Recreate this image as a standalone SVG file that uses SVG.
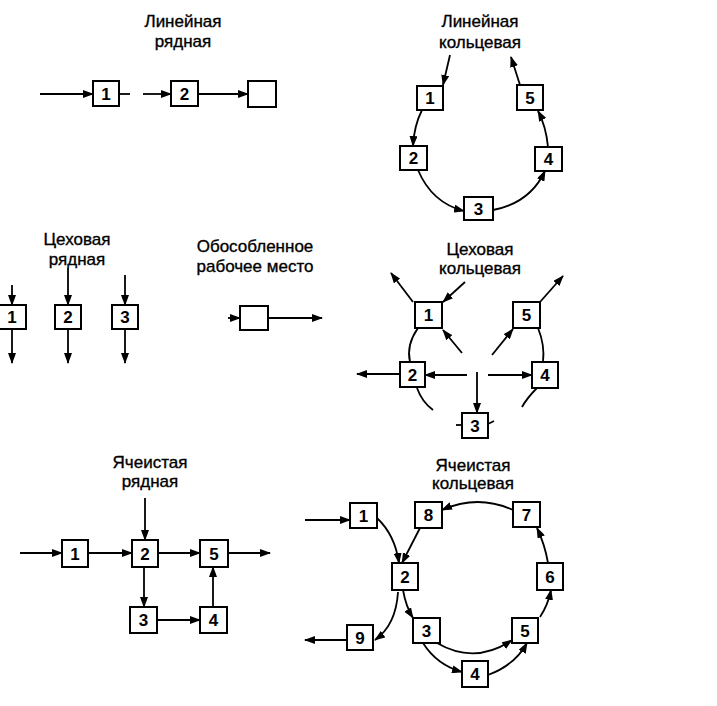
<svg xmlns="http://www.w3.org/2000/svg" width="717" height="706" viewBox="0 0 717 706">
<defs>
<marker id="ah" markerUnits="userSpaceOnUse" markerWidth="11" markerHeight="8" refX="10" refY="4" orient="auto">
<path d="M0,0 L11,4 L0,8 z" fill="#000"/>
</marker>
<style>
.n rect{fill:#fff;stroke:#000;stroke-width:2}
.n text{font-family:"Liberation Sans",Arial,sans-serif;font-size:17px;font-weight:bold;text-anchor:middle;fill:#000}
.t{font-family:"Liberation Sans",Arial,sans-serif;font-size:17px;text-anchor:middle;fill:#000;stroke:#000;stroke-width:0.35}
#edges path{fill:none;stroke:#000;stroke-width:1.8}
#edges path.a{marker-end:url(#ah)}
</style>
</defs>
<rect width="717" height="706" fill="#fff"/>
<g id="titles">
<text class="t" x="183" y="27">Линейная</text><text class="t" x="183" y="47">рядная</text>
<text class="t" x="480" y="27">Линейная</text><text class="t" x="480" y="48">кольцевая</text>
<text class="t" x="77" y="245">Цеховая</text><text class="t" x="77" y="265">рядная</text>
<text class="t" x="255" y="252">Обособленное</text><text class="t" x="255" y="272">рабочее место</text>
<text class="t" x="480" y="255">Цеховая</text><text class="t" x="480" y="274">кольцевая</text>
<text class="t" x="150" y="468">Ячеистая</text><text class="t" x="150" y="487">рядная</text>
<text class="t" x="473" y="471">Ячеистая</text><text class="t" x="473" y="489">кольцевая</text>
</g>
<g id="edges">
<path class="a" d="M40,94 L93,94"/>
<path d="M119,94 L130,94"/>
<path class="a" d="M143,94 L171,94"/>
<path class="a" d="M198,94 L248,94"/>
<path class="a" d="M450,55 L443,85"/>
<path class="a" d="M520,85 L511,57"/>
<path class="a" d="M422,110 Q414,126 413,146"/>
<path class="a" d="M418,170 Q432,203 464,211"/>
<path class="a" d="M493,210 Q530,203 545,171"/>
<path class="a" d="M548,147 Q546,126 538,111"/>
<path class="a" d="M12,285 L12,305"/>
<path class="a" d="M12,329 L12,363"/>
<path class="a" d="M68,268 L68,305"/>
<path class="a" d="M68,329 L68,363"/>
<path class="a" d="M125,275 L125,305"/>
<path class="a" d="M125,329 L125,363"/>
<path class="a" d="M228,318 L240,318"/>
<path class="a" d="M268,318 L322,318"/>
<path class="a" d="M413,302 L391,273"/>
<path class="a" d="M465,282 L443,302"/>
<path class="a" d="M540,302 L563,276"/>
<path class="a" d="M462,353 L443,330"/>
<path class="a" d="M492,355 L513,329"/>
<path class="a" d="M467,375 L425,375"/>
<path class="a" d="M400,374 L357,374"/>
<path class="a" d="M488,375 L532,375"/>
<path class="a" d="M477,372 L477,413"/>
<path d="M418,328 Q406,345 410,362"/>
<path d="M417,388 Q422,402 433,410"/>
<path d="M538,328 Q545,345 543,362"/>
<path d="M537,388 Q527,398 522,407"/>
<path d="M456,425 L462,425"/>
<path d="M488,424 L494,421"/>
<path class="a" d="M20,553 L62,553"/>
<path class="a" d="M88,553 L132,553"/>
<path class="a" d="M158,553 L200,553"/>
<path class="a" d="M228,553 L270,553"/>
<path class="a" d="M145,498 L145,540"/>
<path class="a" d="M144,567 L144,607"/>
<path class="a" d="M157,620 L200,620"/>
<path class="a" d="M213,607 L213,567"/>
<path class="a" d="M305,520 L350,520"/>
<path class="a" d="M377,518 Q395,535 399,563"/>
<path class="a" d="M420,528 L402,563"/>
<path class="a" d="M513,510 Q478,494 442,510"/>
<path class="a" d="M548,563 Q545,545 537,528"/>
<path class="a" d="M540,617 Q548,605 551,590"/>
<path class="a" d="M403,590 Q406,607 413,618"/>
<path class="a" d="M398,592 Q396,625 375,640"/>
<path class="a" d="M347,640 L305,640"/>
<path class="a" d="M437,643 Q475,665 512,640"/>
<path class="a" d="M423,643 Q437,665 462,672"/>
<path class="a" d="M488,675 Q515,665 527,643"/>
</g>
<g id="lr1" class="n"><rect x="93" y="81" width="26" height="25"/><text x="106" y="100">1</text></g>
<g id="lr2" class="n"><rect x="171" y="81" width="27" height="25"/><text x="184.5" y="100">2</text></g>
<g id="lr3" class="n"><rect x="248" y="81" width="28" height="26"/></g>
<g id="lk1" class="n"><rect x="417" y="86" width="26" height="24"/><text x="430" y="104">1</text></g>
<g id="lk2" class="n"><rect x="400" y="146" width="27" height="24"/><text x="413.5" y="164">2</text></g>
<g id="lk3" class="n"><rect x="464" y="197" width="29" height="23"/><text x="478.5" y="215">3</text></g>
<g id="lk4" class="n"><rect x="535" y="147" width="27" height="24"/><text x="548.5" y="165">4</text></g>
<g id="lk5" class="n"><rect x="517" y="85" width="26" height="25"/><text x="530" y="104">5</text></g>
<g id="sr1" class="n"><rect x="-1" y="305" width="27" height="24"/><text x="12" y="323">1</text></g>
<g id="sr2" class="n"><rect x="55" y="305" width="26" height="24"/><text x="68" y="323">2</text></g>
<g id="sr3" class="n"><rect x="112" y="305" width="26" height="24"/><text x="125" y="323">3</text></g>
<g id="iso" class="n"><rect x="240" y="306" width="28" height="24"/></g>
<g id="sk1" class="n"><rect x="415" y="302" width="27" height="26"/><text x="428.5" y="321">1</text></g>
<g id="sk2" class="n"><rect x="400" y="362" width="25" height="25"/><text x="412.5" y="381">2</text></g>
<g id="sk3" class="n"><rect x="462" y="413" width="26" height="25"/><text x="475" y="432">3</text></g>
<g id="sk4" class="n"><rect x="532" y="362" width="26" height="26"/><text x="545" y="381">4</text></g>
<g id="sk5" class="n"><rect x="513" y="302" width="27" height="26"/><text x="526.5" y="321">5</text></g>
<g id="cr1" class="n"><rect x="62" y="540" width="26" height="27"/><text x="75" y="560">1</text></g>
<g id="cr2" class="n"><rect x="132" y="540" width="26" height="27"/><text x="145" y="560">2</text></g>
<g id="cr3" class="n"><rect x="130" y="607" width="27" height="26"/><text x="143.5" y="626">3</text></g>
<g id="cr4" class="n"><rect x="200" y="607" width="27" height="26"/><text x="213.5" y="626">4</text></g>
<g id="cr5" class="n"><rect x="200" y="540" width="28" height="27"/><text x="214" y="560">5</text></g>
<g id="ck1" class="n"><rect x="350" y="503" width="27" height="25"/><text x="363.5" y="522">1</text></g>
<g id="ck2" class="n"><rect x="392" y="563" width="26" height="27"/><text x="405" y="583">2</text></g>
<g id="ck3" class="n"><rect x="413" y="618" width="27" height="25"/><text x="426.5" y="637">3</text></g>
<g id="ck4" class="n"><rect x="462" y="661" width="26" height="26"/><text x="475" y="680">4</text></g>
<g id="ck5" class="n"><rect x="512" y="618" width="26" height="25"/><text x="525" y="637">5</text></g>
<g id="ck6" class="n"><rect x="537" y="563" width="26" height="27"/><text x="550" y="583">6</text></g>
<g id="ck7" class="n"><rect x="513" y="502" width="27" height="25"/><text x="526.5" y="521">7</text></g>
<g id="ck8" class="n"><rect x="415" y="502" width="27" height="26"/><text x="428.5" y="521">8</text></g>
<g id="ck9" class="n"><rect x="347" y="625" width="26" height="25"/><text x="360" y="644">9</text></g>
</svg>
